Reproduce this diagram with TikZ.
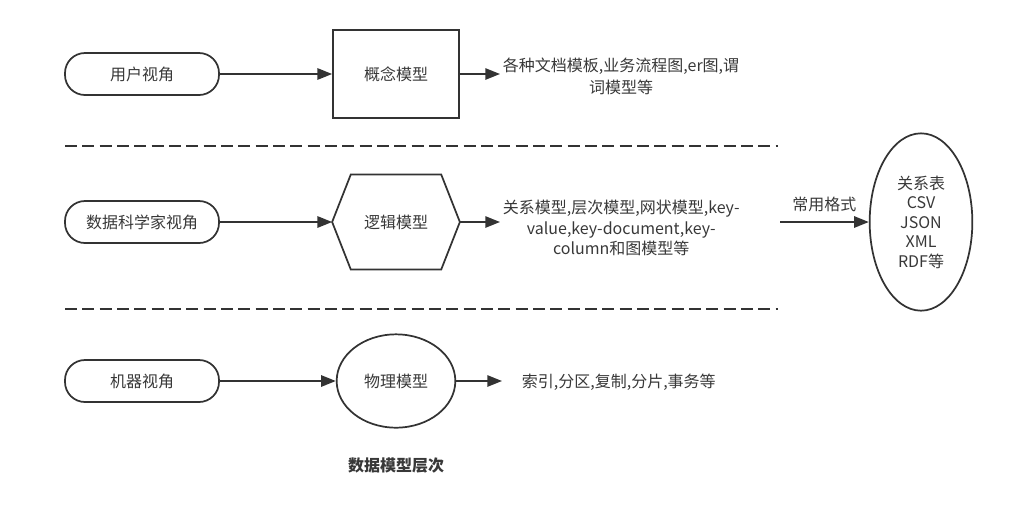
\documentclass[tikz,border=0pt]{standalone}
\usepackage{fontspec}
\setmainfont{Noto Sans CJK SC}
\usetikzlibrary{arrows.meta,shapes.geometric}
\definecolor{linegray}{rgb}{0.2,0.2,0.2}
\definecolor{textgray}{rgb}{0.22,0.22,0.22}
\tikzset{edge/.style = {-{Triangle[length=11pt,width=8.5pt]}, draw=linegray, line width=1.3pt}}
\tikzset{divider/.style = {draw=linegray, line width=1.3pt, dash pattern=on 9pt off 4pt}}

\begin{document}
\begin{tikzpicture}[x=0.75pt,y=-0.75pt,font=\fontsize{12}{15}\selectfont,text=textgray]
			\useasboundingbox (0,0) rectangle (1016,522);
			\begin{scope}[every node/.style={draw=linegray,line width=1.3pt,rounded corners=15pt,minimum width=115.5pt,minimum height=31.5pt}]
			    \node (user) at (142,74) {用户视角};
			    \node (sci) at (142,222) {数据科学家视角};
			    \node (mach) at (142,381) {机器视角};
			\end{scope}
			\begin{scope}[every node/.style={draw=linegray,line width=1.3pt,minimum width=94.5pt}]
			    \node [minimum height=66pt] (concept) at (396,74) {概念模型};
			    \node [draw=none,minimum height=70pt] (logic) at (396,222) {逻辑模型};
			    \node [ellipse,minimum width=89pt,minimum height=70pt] (phys) at (396,381) {物理模型};
			    \node [ellipse,minimum width=77pt,minimum height=133pt,align=center,font=\fontsize{12}{14.6}\selectfont] (fmt) at (921,222) {关系表\\CSV\\JSON\\XML\\RDF等};
			\end{scope}
			\draw [draw=linegray,line width=1.3pt] (logic.west) -- ([xshift=14pt]logic.north west) -- ([xshift=-14pt]logic.north east) -- (logic.east) -- ([xshift=-14pt]logic.south east) -- ([xshift=14pt]logic.south west) -- cycle;
			\begin{scope}[every node/.style={inner sep=2pt}]
			    \node [anchor=west,align=center,font=\fontsize{12}{16.5}\selectfont] (desc1) at (500,76) {各种文档模板,业务流程图,er图,谓\\词模型等};
			    \node [anchor=west,align=center,font=\fontsize{12}{15.5}\selectfont] (desc2) at (500,228) {关系模型,层次模型,网状模型,key-\\value,key-document,key-\\column和图模型等};
			    \node [anchor=west] (desc3) at (519,382) {索引,分区,复制,分片,事务等};
			    \node [font=\fontsize{12}{15}\bfseries] (title) at (396,465) {数据模型层次};
			\end{scope}
			\coordinate (desc3in) at (502,381);
			\coordinate (fmtin) at (780,222);
			\draw [divider] (65,146) -- (778,146);
			\draw [divider] (65,309) -- (778,309);
			\begin{scope}[every edge/.style={edge}]
			    \path (user) edge (concept);
			    \path (concept) edge (concept.east -| desc1.west);
			    \path (sci) edge (logic.west);
			    \path (logic.east) edge (logic.east -| desc2.west);
			    \path (mach) edge (phys);
			    \path (phys) edge (desc3in);
			    \path (fmtin) edge node [above=4pt] {常用格式} (fmt.west);
			\end{scope}
		\end{tikzpicture}
\end{document}
